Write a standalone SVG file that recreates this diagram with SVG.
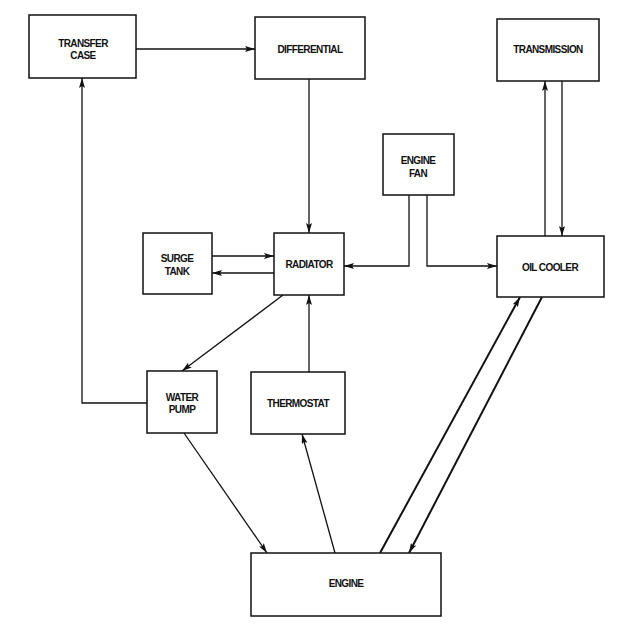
<svg xmlns="http://www.w3.org/2000/svg" width="627" height="628" viewBox="0 0 627 628">
<style>
.box{fill:#fff;stroke:#111;stroke-width:1.5}
.lbl{font-family:"Liberation Sans",Arial,sans-serif;font-weight:bold;font-size:10px;letter-spacing:-0.6px;fill:#111;text-anchor:middle}
.c{fill:none;stroke:#111;stroke-width:1.3}
.t{stroke-width:2}
</style>
<defs>
<marker id="ah" viewBox="0 0 10 6" refX="10" refY="3" markerWidth="10" markerHeight="6" markerUnits="userSpaceOnUse" orient="auto">
<path d="M0,0 L10,3 L0,6 L2,3 z" fill="#111"/>
</marker>
</defs>
<rect width="627" height="628" fill="#fff"/>
<g id="connectors">
<path class="c" d="M136,49 H255" marker-end="url(#ah)"/>
<path class="c" d="M309,79 V233" marker-end="url(#ah)"/>
<path class="c" d="M212,256 H274" marker-end="url(#ah)"/>
<path class="c" d="M274,273 H212" marker-end="url(#ah)"/>
<path class="c" d="M409,195 V266 H344" marker-end="url(#ah)"/>
<path class="c" d="M427,195 V266 H497" marker-end="url(#ah)"/>
<path class="c" d="M545,236 V81" marker-end="url(#ah)"/>
<path class="c" d="M562,81 V236" marker-end="url(#ah)"/>
<path class="c" d="M147,403 H82 V78" marker-end="url(#ah)"/>
<path class="c" d="M283,295 L182,371" marker-end="url(#ah)"/>
<path class="c" d="M309,372 V295" marker-end="url(#ah)"/>
<path class="c" d="M184,433 L267,553" marker-end="url(#ah)"/>
<path class="c" d="M335,553 L302,434" marker-end="url(#ah)"/>
<path class="c t" d="M380,553 L520,297" marker-end="url(#ah)"/>
<path class="c t" d="M542,297 L409,553" marker-end="url(#ah)"/>
</g>
<g id="transfer-case"><rect class="box" x="29" y="15" width="107" height="63"/><text class="lbl" x="83" y="47">TRANSFER</text><text class="lbl" x="83" y="59">CASE</text></g>
<g id="differential"><rect class="box" x="255" y="17" width="110" height="62"/><text class="lbl" x="310" y="53">DIFFERENTIAL</text></g>
<g id="transmission"><rect class="box" x="497" y="19" width="102" height="62"/><text class="lbl" x="548" y="53">TRANSMISSION</text></g>
<g id="engine-fan"><rect class="box" x="383" y="134" width="71" height="61"/><text class="lbl" x="418" y="164">ENGINE</text><text class="lbl" x="418" y="177">FAN</text></g>
<g id="surge-tank"><rect class="box" x="143" y="233" width="69" height="61"/><text class="lbl" x="177" y="262">SURGE</text><text class="lbl" x="177" y="275">TANK</text></g>
<g id="radiator"><rect class="box" x="274" y="233" width="70" height="62"/><text class="lbl" x="309" y="268">RADIATOR</text></g>
<g id="oil-cooler"><rect class="box" x="497" y="236" width="107" height="61"/><text class="lbl" x="550" y="271">OIL COOLER</text></g>
<g id="water-pump"><rect class="box" x="147" y="371" width="70" height="62"/><text class="lbl" x="182" y="401">WATER</text><text class="lbl" x="182" y="413">PUMP</text></g>
<g id="thermostat"><rect class="box" x="251" y="372" width="94" height="62"/><text class="lbl" x="298" y="407">THERMOSTAT</text></g>
<g id="engine"><rect class="box" x="251" y="553" width="190" height="63"/><text class="lbl" x="346" y="587">ENGINE</text></g>
</svg>
